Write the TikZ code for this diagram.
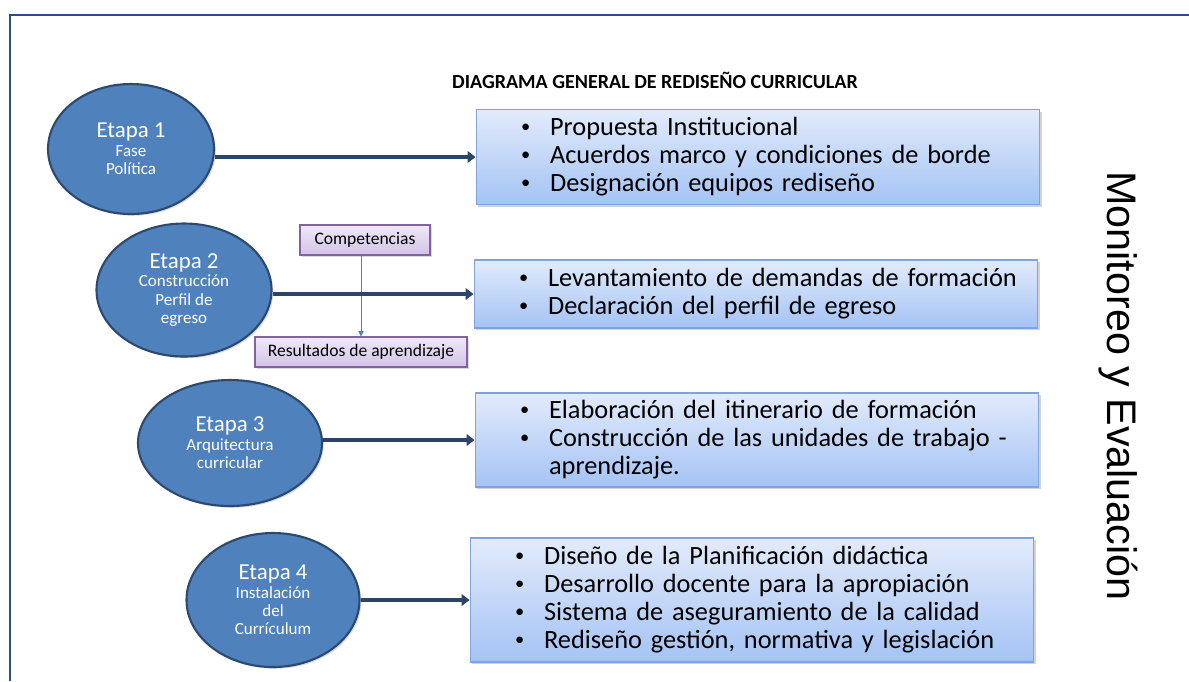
\documentclass[tikz,border=0pt]{standalone}
\usepackage{fontspec}
\setmainfont{Carlito}
\newfontfamily\arialfont{Liberation Sans}
\usepackage{tikz}
\usetikzlibrary{shapes.geometric,arrows.meta,shadows}

\definecolor{marco}{HTML}{2A5085}
\definecolor{azul}{HTML}{4F81BD}
\definecolor{azulborde}{HTML}{2C4A70}
\definecolor{flechacol}{HTML}{2B4468}
\definecolor{cajasup}{HTML}{E2EBFB}
\definecolor{cajainf}{HTML}{A4C3F5}
\definecolor{cajaborde}{HTML}{7FA3DA}
\definecolor{lilasup}{HTML}{F0E9F7}
\definecolor{lilainf}{HTML}{D2C2E6}
\definecolor{lilaborde}{HTML}{8064A2}

\newcommand{\px}[1]{#1*0.02cm}
\newcommand{\itm}[1]{\hspace*{0.9cm}\makebox[0.58cm][l]{\raisebox{0.25ex}{\scalebox{0.7}{\textbullet}}}#1}
\newcommand{\etp}[1]{{\fontsize{13}{15}\selectfont #1}}

\begin{document}
\begin{tikzpicture}[x=0.02cm,y=-0.02cm,
    etapa/.style={ellipse, fill=azul, draw=azulborde, line width=1.2pt, inner sep=0pt,
        text=white, align=center, font=\fontsize{9.7}{10.5}\selectfont,
        drop shadow={shadow xshift=1pt, shadow yshift=-1pt, opacity=0.3}},
    lista/.style={rectangle, top color=cajasup, bottom color=cajainf, draw=cajaborde,
        line width=0.6pt, inner sep=0pt, text width=11.28cm,
        align=left, font=\fontsize{15}{15.9}\selectfont,
        drop shadow={shadow xshift=1.2pt, shadow yshift=-1.2pt, opacity=0.35}},
    sub/.style={rectangle, top color=lilasup, bottom color=lilainf, draw=lilaborde,
        line width=0.6pt, inner sep=0pt, font=\fontsize{10}{12}\selectfont,
        drop shadow={shadow xshift=1pt, shadow yshift=-1pt, opacity=0.3}},
    flecha/.style={line width=2pt, draw=flechacol, -{Triangle[width=6.5pt,length=4.5pt]}},
    flechita/.style={line width=0.5pt, draw=azul, -{Triangle[width=3pt,length=3pt]}}]

    \useasboundingbox (0,0) rectangle (1189,681);

    % marco
    \draw[marco, line width=1.3pt] (10,681) -- (10,15) -- (1189,15);

    \node[font=\fontsize{11.4}{13}\selectfont\bfseries] (titulo) at (655,80)
        {DIAGRAMA GENERAL DE REDISEÑO CURRICULAR};

    % etapas
    \node[etapa, minimum width=\px{166}, minimum height=\px{130}] (e1) at (131,149)
        {\etp{Etapa 1}\\Fase\\Política};
    \node[etapa, minimum width=\px{175}, minimum height=\px{133}] (e2) at (184,290)
        {\etp{Etapa 2}\\Construcción\\Perfil de\\egreso};
    \node[etapa, minimum width=\px{184}, minimum height=\px{126}] (e3) at (230,443)
        {\etp{Etapa 3}\\Arquitectura\\curricular};
    \node[etapa, minimum width=\px{173}, minimum height=\px{134}] (e4) at (273,600)
        {\etp{Etapa 4}\\Instalación\\del\\Currículum};

    % listas
    \node[lista, minimum height=\px{95}] (b1) at (758,157) {\itm{Propuesta Institucional}\\
        \itm{Acuerdos marco y condiciones de borde}\\
        \itm{Designación equipos rediseño}};
    \node[lista, minimum height=\px{68}] (b2) at (756,294) {\itm{Levantamiento de demandas de formación}\\
        \itm{Declaración del perfil de egreso}};
    \node[lista, minimum height=\px{94}] (b3) at (757,440) {\itm{Elaboración del itinerario de formación}\\
        \itm{Construcción de las unidades de trabajo -}\\
        \hspace*{1.48cm}aprendizaje.};
    \node[lista, minimum height=\px{124}] (b4) at (752,600) {\itm{Diseño de la Planificación didáctica}\\
        \itm{Desarrollo docente para la apropiación}\\
        \itm{Sistema de aseguramiento de la calidad}\\
        \itm{Rediseño gestión, normativa y legislación}};

    % competencias
    \node[sub, minimum width=\px{130}, minimum height=\px{30}] (comp) at (365,240) {Competencias};
    \node[sub, minimum width=\px{212}, minimum height=\px{30}] (res) at (361,352) {Resultados de aprendizaje};

    \draw[flechita] (comp.south -| res.north) -- (res.north);

    \draw[flecha] (e1.east |- b1.west) -- (b1.west);
    \draw[flecha] (e2.east |- b2.west) -- (b2.west);
    \draw[flecha] (e3.east |- b3.west) -- (b3.west);
    \draw[flecha] (e4.east |- b4.west) -- (b4.west);

    \node[rotate=-90, font=\arialfont\fontsize{23.5}{26}\selectfont] (monitoreo) at (1118,386)
        {Monitoreo y Evaluación};

\end{tikzpicture}
\end{document}
